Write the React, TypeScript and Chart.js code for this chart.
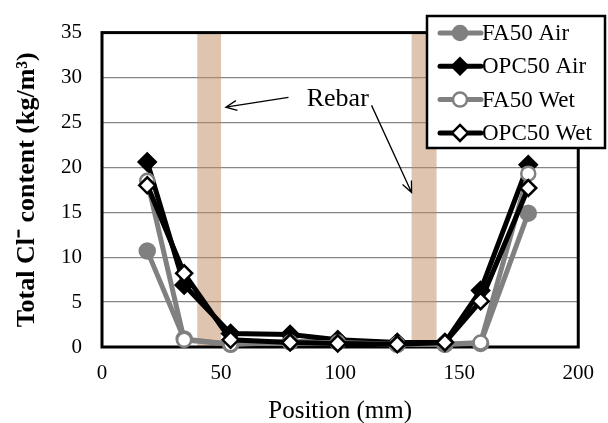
import React, { useEffect, useRef } from "react";
import { Chart, registerables } from "chart.js";

Chart.register(...registerables);

// ---- data ----
const positions = [19, 34.5, 54, 79, 99, 124, 144, 159, 179];
const fa50Air = [10.7, 0.9, 0.3, 0.6, 0.6, 0.3, 0.3, 0.4, 14.9];
const opc50Air = [20.6, 6.9, 1.5, 1.4, 0.8, 0.5, 0.5, 6.3, 20.3];
const fa50Wet = [18.5, 0.8, 0.3, 0.5, 0.5, 0.3, 0.3, 0.5, 19.3];
const opc50Wet = [18.0, 8.2, 0.8, 0.5, 0.4, 0.3, 0.5, 5.1, 17.7];
const seriesNames = ["FA50 Air", "OPC50 Air", "FA50 Wet", "OPC50 Wet"];
const xTickValues = [0, 50, 100, 150, 200];
const yTickValues = [0, 5, 10, 15, 20, 25, 30, 35];
const rebarRanges = [
  [40, 50],
  [130, 140.5],
];
const rebarLabel = "Rebar";
const rebarLabelAt = [99, 27.6];
const rebarArrows = [
  [[78.3, 27.8], [52, 26.7]],
  [[113.2, 26.9], [130, 17.2]],
];
const xTitle = "Position (mm)";
const yTitle = "Total Cl\u207B content (kg/m\u00B3)";

const FONT = '"Liberation Serif", "Times New Roman", serif';
const GRAY = "#808080";
const BLACK = "#000000";

const seriesStyles = [
  { color: GRAY, fill: GRAY, shape: "circle", radius: 7.5 },
  { color: BLACK, fill: BLACK, shape: "rectRot", radius: 8.5 },
  { color: GRAY, fill: "#ffffff", shape: "circle", radius: 7 },
  { color: BLACK, fill: "#ffffff", shape: "rectRot", radius: 8 },
];
const seriesValues = [fa50Air, opc50Air, fa50Wet, opc50Wet];

function toPoints(vals: number[]) {
  return positions.map((x, i) => ({ x, y: vals[i] }));
}

const bandPlugin = {
  id: "rebarBands",
  beforeDatasetsDraw(chart: any) {
    const { ctx, chartArea, scales } = chart;
    ctx.save();
    ctx.fillStyle = "rgba(192,138,98,0.5)";
    rebarRanges.forEach(([a, b]) => {
      const x1 = scales.x.getPixelForValue(a);
      const x2 = scales.x.getPixelForValue(b);
      ctx.fillRect(x1, chartArea.top, x2 - x1, chartArea.bottom - chartArea.top);
    });
    ctx.strokeStyle = "#000";
    ctx.lineWidth = 3;
    ctx.strokeRect(chartArea.left, chartArea.top, chartArea.right - chartArea.left, chartArea.bottom - chartArea.top);
    ctx.restore();
  },
};

function drawArrow(ctx: CanvasRenderingContext2D, x1: number, y1: number, x2: number, y2: number) {
  const ang = Math.atan2(y2 - y1, x2 - x1);
  const len = 12;
  const spread = 0.42;
  ctx.beginPath();
  ctx.moveTo(x1, y1);
  ctx.lineTo(x2, y2);
  ctx.moveTo(x2 - len * Math.cos(ang - spread), y2 - len * Math.sin(ang - spread));
  ctx.lineTo(x2, y2);
  ctx.lineTo(x2 - len * Math.cos(ang + spread), y2 - len * Math.sin(ang + spread));
  ctx.stroke();
}

const annotationPlugin = {
  id: "rebarAnnot",
  afterDatasetsDraw(chart: any) {
    const { ctx, scales } = chart;
    ctx.save();
    ctx.fillStyle = "#000";
    ctx.font = `26px ${FONT}`;
    ctx.textAlign = "center";
    ctx.textBaseline = "middle";
    ctx.fillText(rebarLabel, scales.x.getPixelForValue(rebarLabelAt[0]), scales.y.getPixelForValue(rebarLabelAt[1]));
    ctx.strokeStyle = "#000";
    ctx.lineWidth = 1.3;
    rebarArrows.forEach(([s, e]) => {
      drawArrow(
        ctx,
        scales.x.getPixelForValue(s[0]),
        scales.y.getPixelForValue(s[1]),
        scales.x.getPixelForValue(e[0]),
        scales.y.getPixelForValue(e[1])
      );
    });
    ctx.restore();
  },
};

function drawMarker(ctx: CanvasRenderingContext2D, shape: string, x: number, y: number, r: number, fill: string, stroke: string) {
  ctx.beginPath();
  if (shape === "circle") {
    ctx.arc(x, y, r, 0, Math.PI * 2);
  } else {
    ctx.moveTo(x, y - r);
    ctx.lineTo(x + r, y);
    ctx.lineTo(x, y + r);
    ctx.lineTo(x - r, y);
    ctx.closePath();
  }
  ctx.fillStyle = fill;
  ctx.fill();
  ctx.lineWidth = 2.5;
  ctx.strokeStyle = stroke;
  ctx.stroke();
}

const legendPlugin = {
  id: "customLegend",
  afterDraw(chart: any) {
    const { ctx } = chart;
    const box = { x: 427, y: 16, w: 178, h: 132 };
    ctx.save();
    ctx.fillStyle = "#fff";
    ctx.fillRect(box.x, box.y, box.w, box.h);
    ctx.strokeStyle = "#000";
    ctx.lineWidth = 2.5;
    ctx.strokeRect(box.x, box.y, box.w, box.h);
    const rowH = 33.3;
    seriesNames.forEach((name, i) => {
      const st = seriesStyles[i];
      const y = box.y + 17 + i * rowH;
      ctx.beginPath();
      ctx.moveTo(440, y);
      ctx.lineTo(481, y);
      ctx.lineWidth = 5;
      ctx.strokeStyle = st.color;
      ctx.lineCap = "round";
      ctx.stroke();
      drawMarker(ctx, st.shape, 460, y, st.shape === "circle" ? 7 : 8, st.fill, st.color);
      ctx.fillStyle = "#000";
      ctx.font = `23px ${FONT}`;
      ctx.textAlign = "left";
      ctx.textBaseline = "middle";
      ctx.fillText(name, 482, y + 1);
    });
    ctx.restore();
  },
};

export default function App() {
  const ref = useRef<HTMLCanvasElement | null>(null);
  useEffect(() => {
    if (!ref.current) return;
    const datasets = seriesNames.map((name, i) => {
      const st = seriesStyles[i];
      return {
        label: name,
        data: toPoints(seriesValues[i]),
        borderColor: st.color,
        backgroundColor: st.fill,
        borderWidth: 5,
        pointStyle: st.shape,
        pointRadius: st.radius,
        pointHoverRadius: st.radius,
        pointBackgroundColor: st.fill,
        pointBorderColor: st.color,
        pointBorderWidth: 2.5,
        tension: 0,
        order: seriesNames.length - i,
        clip: false,
      };
    });
    const chart = new Chart(ref.current, {
      type: "line",
      data: { datasets } as any,
      plugins: [bandPlugin, annotationPlugin, legendPlugin],
      options: {
        animation: false,
        responsive: false,
        maintainAspectRatio: false,
        layout: { padding: { top: 32, right: 29, bottom: 0, left: 0 } },
        plugins: { legend: { display: false }, tooltip: { enabled: false } },
        scales: {
          x: {
            type: "linear",
            min: 0,
            max: 200,
            afterBuildTicks: (s: any) => {
              s.ticks = xTickValues.map((v) => ({ value: v }));
            },
            afterFit: (s: any) => {
              s.height = 76;
            },
            grid: { display: false, drawTicks: false },
            border: { display: false },
            ticks: { color: "#000", font: { family: FONT, size: 21 }, padding: 14, maxRotation: 0 },
            title: {
              display: true,
              text: xTitle,
              color: "#000",
              font: { family: FONT, size: 25, lineHeight: 0.9 },
              padding: { top: 0, bottom: 0 },
            },
          },
          y: {
            type: "linear",
            min: 0,
            max: 35,
            afterBuildTicks: (s: any) => {
              s.ticks = yTickValues.map((v) => ({ value: v }));
            },
            afterFit: (s: any) => {
              s.width = 102;
            },
            grid: {
              drawTicks: false,
              color: (c: any) => (c.tick && (c.tick.value === 0 || c.tick.value === 35) ? "rgba(0,0,0,0)" : "#868686"),
              lineWidth: 1.2,
            },
            border: { display: false },
            ticks: { color: "#000", font: { family: FONT, size: 21 }, padding: 20 },
            title: {
              display: true,
              text: yTitle,
              color: "#000",
              font: { family: FONT, size: 26, weight: "bold", lineHeight: 1.2 },
              padding: { top: 12, bottom: 0 },
            },
          },
        },
      } as any,
    });
    return () => chart.destroy();
  }, []);
  return (
    <div style={{ position: "fixed", left: 0, top: 0, width: 608, height: 423, background: "#fff" }}>
      <canvas ref={ref} width={608} height={423} style={{ display: "block", width: 608, height: 423 }} />
    </div>
  );
}
